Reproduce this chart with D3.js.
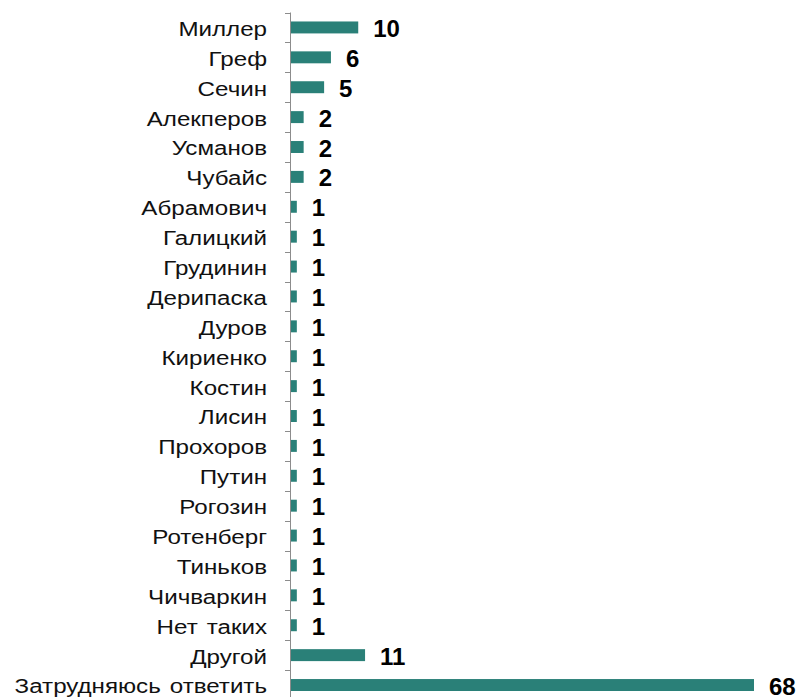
<!DOCTYPE html>
<html>
<head>
<meta charset="utf-8">
<script src="https://cdn.jsdelivr.net/npm/d3@7"></script>
<style>
  body { margin: 0; background: #fff; }
  svg { display: block; }
</style>
</head>
<body>
<div id="chart"></div>
<script>
"use strict";

// categories, top to bottom
var names = ["Миллер", "Греф", "Сечин", "Алекперов", "Усманов", "Чубайс",
  "Абрамович", "Галицкий", "Грудинин", "Дерипаска", "Дуров", "Кириенко",
  "Костин", "Лисин", "Прохоров", "Путин", "Рогозин", "Ротенберг", "Тиньков",
  "Чичваркин", "Нет таких", "Другой", "Затрудняюсь ответить"];
var values = [10, 6, 5, 2, 2, 2, 1, 1, 1, 1, 1, 1, 1, 1, 1, 1, 1, 1, 1, 1, 1, 11, 68];

var width = 799, height = 697;
var axisX = 290;
var plotTop = 12.5, step = 29.89;

var svg = d3.select("#chart").append("svg")
  .attr("width", width)
  .attr("height", height);

var y = d3.scaleBand()
  .domain(names)
  .range([plotTop, plotTop + step * names.length])
  .paddingInner(0.6)
  .paddingOuter(0.3);

var x = d3.scaleLinear()
  .domain([0, 68])
  .range([axisX, axisX + 464]);

// bars
svg.selectAll("rect.bar")
  .data(names)
  .enter().append("rect")
  .attr("class", "bar")
  .attr("x", x(0))
  .attr("y", function(d) { return y(d); })
  .attr("width", function(d, i) { return x(values[i]) - x(0); })
  .attr("height", y.bandwidth())
  .attr("fill", "#2a8078");

// axis line + ticks between categories
var g = svg.append("g").attr("class", "axis");
g.append("line")
  .attr("x1", axisX + 0.5).attr("x2", axisX + 0.5)
  .attr("y1", y.range()[0]).attr("y2", y.range()[1])
  .attr("stroke", "#8c8c8c").attr("stroke-width", 1);
d3.range(names.length + 1).forEach(function(i) {
  var ty = Math.round(y.range()[0] + i * y.step()) + 0.5;
  g.append("line")
    .attr("x1", axisX - 5).attr("x2", axisX + 0.5)
    .attr("y1", ty).attr("y2", ty)
    .attr("stroke", "#8c8c8c").attr("stroke-width", 1);
});

// category labels
svg.selectAll("text.cat")
  .data(names)
  .enter().append("text")
  .attr("class", "cat")
  .attr("transform", function(d) {
    return "translate(267," + (y(d) + y.bandwidth() / 2) + ") scale(1.15,1)";
  })
  .attr("dy", "0.4em")
  .attr("text-anchor", "end")
  .style("font-family", "'Liberation Sans', Arial, sans-serif")
  .style("font-size", "21px")
  .style("word-spacing", "2px")
  .attr("fill", "#111")
  .text(function(d) { return d; });

// value labels
svg.selectAll("text.val")
  .data(names)
  .enter().append("text")
  .attr("class", "val")
  .attr("x", function(d, i) { return x(values[i]) + 15; })
  .attr("y", function(d) { return y(d) + y.bandwidth() / 2; })
  .attr("dy", "0.4em")
  .style("font-family", "'Liberation Sans', Arial, sans-serif")
  .style("font-size", "24px")
  .style("font-weight", "bold")
  .attr("fill", "#000")
  .text(function(d, i) { return values[i]; });
</script>
</body>
</html>
